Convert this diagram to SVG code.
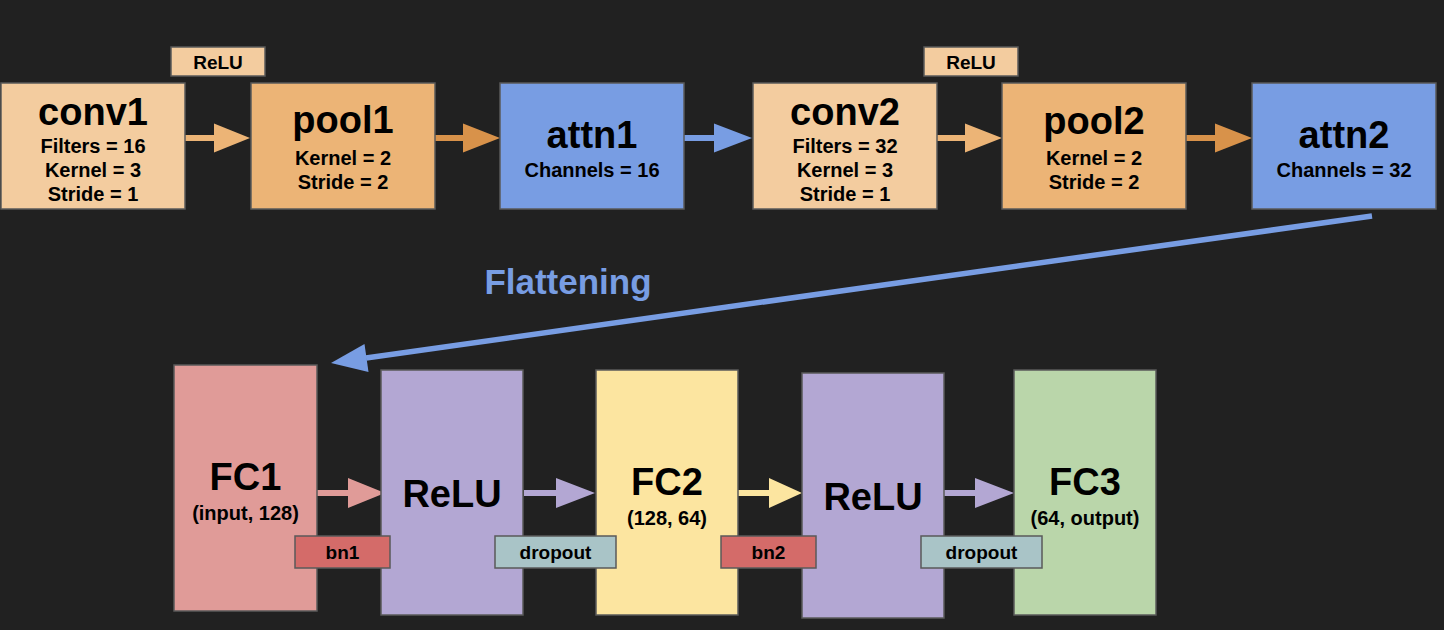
<svg xmlns="http://www.w3.org/2000/svg" width="1444" height="630" viewBox="0 0 1444 630">
<style>
text{font-family:"Liberation Sans",Arial,sans-serif;font-weight:bold;fill:#000;text-anchor:middle}
.box{stroke:#5a5a5a;stroke-width:1.5}
.t{font-size:38px}
.s{font-size:20px}
.l{font-size:19px}
.conv{fill:#F3CC9F}
.pool{fill:#ECB476}
.attn{fill:#789DE3}
.fc1{fill:#E09B98}
.relu{fill:#B3A7D3}
.fc2{fill:#FCE5A0}
.fc3{fill:#BAD6AA}
.bn{fill:#D46B69}
.drop{fill:#A9C4C7}
</style>
<rect x="0" y="0" width="1444" height="630" fill="#212121"/>
<g id="connectors">
<path fill="#ECB476" d="M185 135 H214 V123.5 L250 138 L214 152.5 V141 H185 Z"/>
<path fill="#D8924A" d="M435 135 H463 V123.5 L500 138 L463 152.5 V141 H435 Z"/>
<path fill="#789DE3" d="M684 135 H714 V123.5 L752 138 L714 152.5 V141 H684 Z"/>
<path fill="#ECB476" d="M937 135 H965 V123.5 L1002 138 L965 152.5 V141 H937 Z"/>
<path fill="#D8924A" d="M1186 135 H1215 V123.5 L1252 138 L1215 152.5 V141 H1186 Z"/>
<line x1="1372" y1="216" x2="366" y2="358" stroke="#789DE3" stroke-width="5.5"/>
<path fill="#789DE3" d="M331 363 L364.5 344 L368.5 372 Z"/>
<path fill="#E09B98" d="M317 490 H348 V478 L385 493 L348 508 V496 H317 Z"/>
<path fill="#B3A7D3" d="M524 490 H556 V478 L595 493 L556 508 V496 H524 Z"/>
<path fill="#FCE5A0" d="M738 490 H769 V478 L802 493 L769 508 V496 H738 Z"/>
<path fill="#B3A7D3" d="M944 490 H975 V478 L1014 493 L975 508 V496 H944 Z"/>
<text x="568" y="294" style="font-size:35px;fill:#789DE3">Flattening</text>
</g>
<g id="conv1"><rect class="box conv" x="1" y="83" width="184" height="126"/><text class="t" x="93" y="125">conv1</text><text class="s" x="93" y="153">Filters = 16</text><text class="s" x="93" y="177">Kernel = 3</text><text class="s" x="93" y="201">Stride = 1</text></g>
<g id="relu-label1"><rect class="box conv" x="171" y="47" width="94" height="29"/><text class="l" x="218" y="69">ReLU</text></g>
<g id="pool1"><rect class="box pool" x="251" y="83" width="184" height="126"/><text class="t" x="343" y="133">pool1</text><text class="s" x="343" y="165">Kernel = 2</text><text class="s" x="343" y="189">Stride = 2</text></g>
<g id="attn1"><rect class="box attn" x="500" y="83" width="184" height="126"/><text class="t" x="592" y="148">attn1</text><text class="s" x="592" y="177">Channels = 16</text></g>
<g id="conv2"><rect class="box conv" x="753" y="83" width="184" height="126"/><text class="t" x="845" y="125">conv2</text><text class="s" x="845" y="153">Filters = 32</text><text class="s" x="845" y="177">Kernel = 3</text><text class="s" x="845" y="201">Stride = 1</text></g>
<g id="relu-label2"><rect class="box conv" x="924" y="47" width="94" height="29"/><text class="l" x="971" y="69">ReLU</text></g>
<g id="pool2"><rect class="box pool" x="1002" y="83" width="184" height="126"/><text class="t" x="1094" y="134">pool2</text><text class="s" x="1094" y="165">Kernel = 2</text><text class="s" x="1094" y="189">Stride = 2</text></g>
<g id="attn2"><rect class="box attn" x="1252" y="83" width="184" height="126"/><text class="t" x="1344" y="148">attn2</text><text class="s" x="1344" y="177">Channels = 32</text></g>
<g id="fc1"><rect class="box fc1" x="174" y="365" width="143" height="246"/><text class="t" x="245.5" y="490">FC1</text><text class="s" x="245.5" y="520">(input, 128)</text></g>
<g id="relu1"><rect class="box relu" x="381" y="370" width="142" height="245"/><text class="t" x="452" y="507">ReLU</text></g>
<g id="fc2"><rect class="box fc2" x="596" y="370" width="142" height="245"/><text class="t" x="667" y="495">FC2</text><text class="s" x="667" y="525">(128, 64)</text></g>
<g id="relu2"><rect class="box relu" x="802" y="373" width="142" height="245"/><text class="t" x="873" y="510">ReLU</text></g>
<g id="fc3"><rect class="box fc3" x="1014" y="370" width="142" height="245"/><text class="t" x="1085" y="495">FC3</text><text class="s" x="1085" y="525">(64, output)</text></g>
<g id="bn1"><rect class="box bn" x="295" y="536" width="95" height="32"/><text class="l" x="342.5" y="559">bn1</text></g>
<g id="dropout1"><rect class="box drop" x="495" y="536" width="121" height="32"/><text class="l" x="555.5" y="559">dropout</text></g>
<g id="bn2"><rect class="box bn" x="721" y="536" width="95" height="32"/><text class="l" x="768.5" y="559">bn2</text></g>
<g id="dropout2"><rect class="box drop" x="921" y="536" width="121" height="32"/><text class="l" x="981.5" y="559">dropout</text></g>
</svg>
